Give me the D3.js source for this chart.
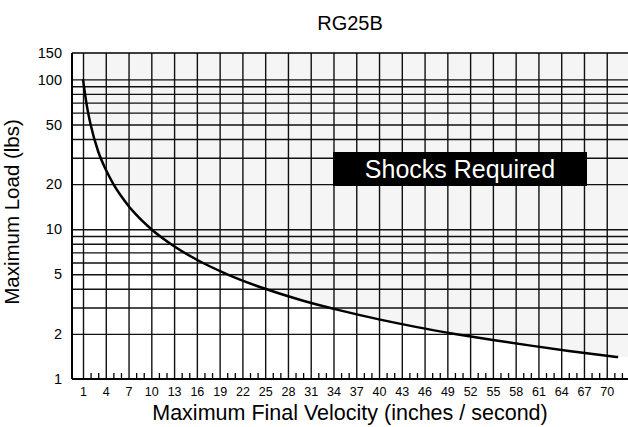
<!DOCTYPE html>
<html>
<head>
<meta charset="utf-8">
<script src="https://cdn.jsdelivr.net/npm/d3@7"></script>
<style>
  body { margin: 0; background: #fff; }
  svg { font-family: "Liberation Sans", Arial, sans-serif; }
</style>
</head>
<body>
<div id="chart"></div>
<script>
// curve
var velocity = [1, 1.5, 2, 3, 4, 5, 6, 7, 8, 10, 13, 16, 20, 25, 30, 35, 40, 45, 50, 55, 60, 65, 70, 71.5];
var maxLoad  = [100, 67, 50, 33, 25, 20, 16.7, 14.3, 12.5, 10, 7.7, 6.25, 5, 4, 3.33, 2.86, 2.5, 2.22, 2, 1.82, 1.67, 1.54, 1.43, 1.4];

var xTickLabels = [1, 4, 7, 10, 13, 16, 19, 22, 25, 28, 31, 34, 37, 40, 43, 46, 49, 52, 55, 58, 61, 64, 67, 70];
var xMinorTicks = [2, 3, 5, 6, 8, 9, 11, 12, 14, 15, 17, 18, 20, 21, 23, 24, 26, 27, 29, 30, 32, 33, 35, 36, 38, 39,
                   41, 42, 44, 45, 47, 48, 50, 51, 53, 54, 56, 57, 59, 60, 62, 63, 65, 66, 68, 69, 71, 72];
var yTickLabels = [1, 2, 5, 10, 20, 50, 100, 150];
var yGridValues = [2, 3, 4, 5, 6, 7, 8, 9, 10, 20, 30, 40, 50, 60, 70, 80, 90, 100];

var W = 628, H = 427;
var margin = {top: 53, right: 0, bottom: 48, left: 72},
    width = W - margin.left - margin.right,
    height = H - margin.top - margin.bottom;

var svg = d3.select("#chart").append("svg")
    .attr("width", W)
    .attr("height", H)
  .append("g")
    .attr("transform", "translate(" + margin.left + "," + margin.top + ")");

var x = d3.scaleLinear().domain([-0.45, 72.8]).range([0, width]);
var y = d3.scaleLog().domain([1, 150]).range([height, 0]);

// shaded area above the curve
var shadeX = velocity.concat([72.8]);
var shadeY = maxLoad.concat([maxLoad[maxLoad.length - 1]]);
var area = d3.area()
    .x(function(d, i) { return x(shadeX[i]); })
    .y0(0)
    .y1(function(d, i) { return y(shadeY[i]); })
    .curve(d3.curveMonotoneX);
svg.append("path")
    .datum(shadeX)
    .attr("d", area)
    .attr("fill", "#f5f5f5");

// grid
svg.append("g")
    .attr("class", "vgrid")
    .attr("transform", "translate(0," + height + ")")
    .call(d3.axisBottom(x).tickValues(xTickLabels).tickSize(-height).tickFormat(""))
    .call(function(g) { g.select(".domain").remove(); })
    .selectAll("line").attr("stroke", "#111").attr("stroke-width", 1.4);

svg.append("g")
    .attr("class", "hgrid")
    .call(d3.axisLeft(y).tickValues(yGridValues).tickSize(-width).tickFormat(""))
    .call(function(g) { g.select(".domain").remove(); })
    .selectAll("line").attr("stroke", "#111").attr("stroke-width", 1.4);

// minor ticks on the bottom
svg.append("g")
    .attr("transform", "translate(0," + height + ")")
    .call(d3.axisBottom(x).tickValues(xMinorTicks).tickSize(-6).tickFormat(""))
    .call(function(g) { g.select(".domain").remove(); })
    .selectAll("line").attr("stroke", "#000").attr("stroke-width", 1.3);

// x labels
var xAxis = svg.append("g")
    .attr("transform", "translate(0," + height + ")")
    .call(d3.axisBottom(x).tickValues(xTickLabels).tickSize(0).tickPadding(8));
xAxis.select(".domain").remove();
xAxis.selectAll("text").style("font-size", "12.5px").attr("fill", "#000")
    .style("font-family", "'Liberation Sans', Arial, sans-serif");

// y labels
var yAxis = svg.append("g")
    .call(d3.axisLeft(y).tickValues(yTickLabels).tickSize(0).tickPadding(10).tickFormat(d3.format("d")));
yAxis.select(".domain").remove();
yAxis.selectAll("text").style("font-size", "14.5px").attr("fill", "#000")
    .style("font-family", "'Liberation Sans', Arial, sans-serif");

// frame: left, top, bottom
svg.append("line").attr("x1", 0).attr("x2", 0).attr("y1", 0).attr("y2", height)
    .attr("stroke", "#000").attr("stroke-width", 2);
svg.append("line").attr("x1", 0).attr("x2", width).attr("y1", 0).attr("y2", 0)
    .attr("stroke", "#000").attr("stroke-width", 1.5);
svg.append("line").attr("x1", 0).attr("x2", width).attr("y1", height).attr("y2", height)
    .attr("stroke", "#000").attr("stroke-width", 2);

// load curve
var line = d3.line()
    .x(function(d, i) { return x(velocity[i]); })
    .y(function(d) { return y(d); })
    .curve(d3.curveMonotoneX);
svg.append("path")
    .datum(maxLoad)
    .attr("d", line)
    .attr("fill", "none")
    .attr("stroke", "#000")
    .attr("stroke-width", 2.5);

// label box
svg.append("rect")
    .attr("x", 261).attr("y", 99)
    .attr("width", 254).attr("height", 34)
    .attr("fill", "#000");
svg.append("text")
    .attr("x", 388).attr("y", 125)
    .attr("text-anchor", "middle")
    .attr("fill", "#fff")
    .style("font-size", "25px")
    .text("Shocks Required");

// titles
svg.append("text")
    .attr("x", width / 2).attr("y", -23)
    .attr("text-anchor", "middle")
    .style("font-size", "20px")
    .text("RG25B");

svg.append("text")
    .attr("x", width / 2).attr("y", height + 41)
    .attr("text-anchor", "middle")
    .style("font-size", "21.5px")
    .text("Maximum Final Velocity (inches / second)");

svg.append("text")
    .attr("transform", "rotate(-90)")
    .attr("x", -height / 2 + 4)
    .attr("y", -53)
    .attr("text-anchor", "middle")
    .style("font-size", "20.5px")
    .text("Maximum Load (lbs)");
</script>
</body>
</html>
